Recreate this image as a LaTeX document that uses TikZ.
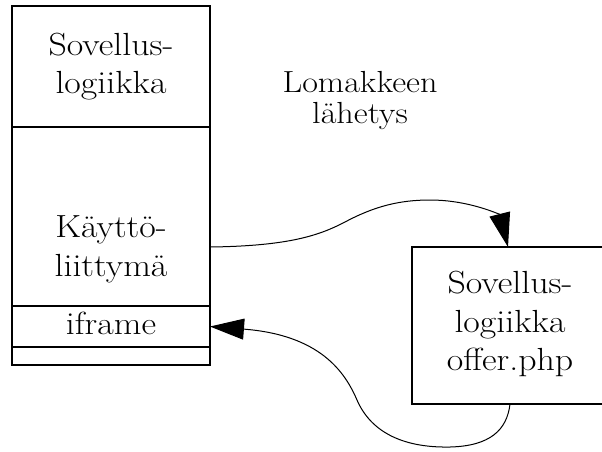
\documentclass[tikz,border=0pt]{standalone}
\usepackage{fontspec}
\usepackage{graphicx}
\usetikzlibrary{arrows.meta}
% slightly widened lettering
\newcommand\wide[1]{\scalebox{1.12}[1]{#1}}
\begin{document}
\begin{tikzpicture}[x=1pt,y=-1pt,
  cell/.style={draw, line width=1.3pt, rectangle, inner sep=0pt, outer sep=0pt, minimum width=198pt},
  txt/.style={anchor=base, inner sep=0pt, font=\rmfamily\fontsize{32}{36}\selectfont},
  lbl/.style={anchor=base, inner sep=0pt, font=\rmfamily\fontsize{30.5}{34}\selectfont},
  flow/.style={line width=1pt, -{Triangle[length=34pt,width=21pt]}}]
\useasboundingbox (0,0) rectangle (602,451);

% client-side stack
\node[cell, minimum height=121pt] (logic) at (111,66.5) {};
\node[cell, minimum height=179pt] (ui) at (111,216.5) {};
\node[cell, minimum height=41pt] (ifr) at (111,326.5) {};
\node[cell, minimum height=18pt] (pad) at (111,356) {};

% server-side script
\node[cell, minimum width=192pt, minimum height=157pt] (srv) at (508,325.5) {};

% texts
\node[txt] (t1) at (111,55) {\wide{Sovellus-}};
\node[txt] (t2) at (111,93) {\wide{logiikka}};
\node[txt] (t3) at (111,237) {\wide{Käyttö-}};
\node[txt] (t4) at (111,276) {\wide{liittymä}};
\node[txt] (t5) at (111,334) {\wide{iframe}};
\node[lbl] (t6) at (360,92) {\wide{Lomakkeen}};
\node[lbl] (t7) at (360,123) {\wide{lähetys}};
\node[txt] (t8) at (510,293) {\wide{Sovellus-}};
\node[txt] (t9) at (510,332) {\wide{logiikka}};
\node[txt] (t10) at (510,370) {\wide{offer.php}};

% form submission and response
\draw[flow] ([yshift=-30.5pt]ui.east) .. controls (290,246) and (320,235) .. (345,222)
  .. controls (375,206) and (400,200) .. (430,200)
  .. controls (470,200) and (500,215) .. (srv.north);
\draw[flow] ([xshift=2pt]srv.south) .. controls (507,430) and (490,446) .. (450,447)
  .. controls (400,448) and (370,430) .. (357,400)
  .. controls (345,372) and (320,335) .. (ifr.east);
\end{tikzpicture}
\end{document}
